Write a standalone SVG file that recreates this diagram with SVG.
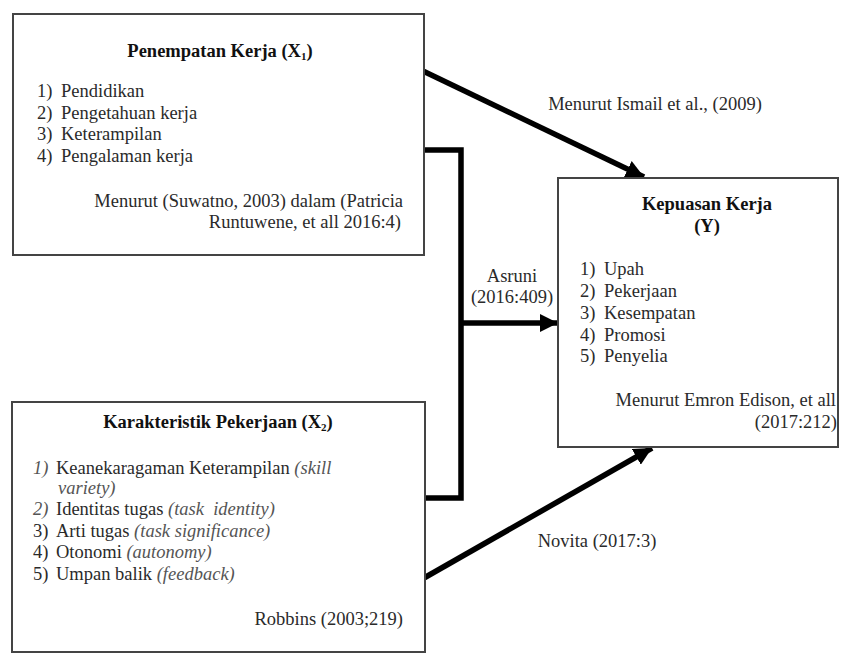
<svg xmlns="http://www.w3.org/2000/svg" width="845" height="655" viewBox="0 0 845 655">
<defs>
<style>
text{font-family:'Liberation Serif',Tinos,'Times New Roman','DejaVu Serif',serif;font-size:18.5px;fill:#2a2a2a}
.b{font-weight:bold;fill:#111}
.i{font-style:italic;fill:#555}
.box{fill:#fff;stroke:#444;stroke-width:2}
.con{fill:none;stroke:#000;stroke-width:5.5}
.sub{font-size:11px}
</style>
<marker id="ah" markerUnits="userSpaceOnUse" markerWidth="20" markerHeight="18" refX="18" refY="9" orient="auto">
<path d="M0,0 L18,9 L0,18 Z" fill="#000"/>
</marker>
</defs>
<rect width="845" height="655" fill="#fff"/>
<g id="connectors">
<path class="con" d="M424,150 H461 V498 H424"/>
<line class="con" x1="461" y1="323" x2="558" y2="323" marker-end="url(#ah)"/>
<line class="con" x1="423" y1="71" x2="644" y2="177" marker-end="url(#ah)"/>
<line class="con" x1="424" y1="578" x2="652" y2="448" marker-end="url(#ah)"/>
</g>
<g id="labels">
<text x="655" y="110" text-anchor="middle">Menurut Ismail et al., (2009)</text>
<text x="512" y="282" text-anchor="middle">Asruni</text>
<text x="512" y="303" text-anchor="middle">(2016:409)</text>
<text x="597" y="547" text-anchor="middle">Novita (2017:3)</text>
</g>
<g id="x1">
<rect class="box" x="13" y="14" width="411" height="241"/>
<text x="220" y="57" text-anchor="middle" class="b">Penempatan Kerja (X<tspan class="sub" dy="3">1</tspan><tspan dy="-3">)</tspan></text>
<text x="37" y="97">1)</text><text x="61" y="97">Pendidikan</text>
<text x="37" y="119">2)</text><text x="61" y="119">Pengetahuan kerja</text>
<text x="37" y="140">3)</text><text x="61" y="140">Keterampilan</text>
<text x="37" y="162">4)</text><text x="61" y="162">Pengalaman kerja</text>
<text x="403" y="207" text-anchor="end">Menurut (Suwatno, 2003) dalam (Patricia</text>
<text x="401" y="228" text-anchor="end">Runtuwene, et all 2016:4)</text>
</g>
<g id="x2">
<rect class="box" x="12" y="402" width="413" height="250"/>
<text x="218" y="428" text-anchor="middle" class="b">Karakteristik Pekerjaan (X<tspan class="sub" dy="3">2</tspan><tspan dy="-3">)</tspan></text>
<text x="33" y="474" class="i">1)</text><text x="56" y="474">Keanekaragaman Keterampilan <tspan class="i">(skill</tspan></text>
<text x="58" y="494" class="i">variety)</text>
<text x="33" y="515" class="i">2)</text><text x="56" y="515">Identitas tugas <tspan class="i" xml:space="preserve">(task  identity)</tspan></text>
<text x="33" y="537">3)</text><text x="56" y="537">Arti tugas <tspan class="i">(task significance)</tspan></text>
<text x="33" y="558">4)</text><text x="56" y="558">Otonomi <tspan class="i">(autonomy)</tspan></text>
<text x="33" y="580">5)</text><text x="56" y="580">Umpan balik <tspan class="i">(feedback)</tspan></text>
<text x="403" y="625" text-anchor="end">Robbins (2003;219)</text>
</g>
<g id="y">
<rect class="box" x="558" y="178" width="280" height="269"/>
<text x="707" y="210" text-anchor="middle" class="b">Kepuasan Kerja</text>
<text x="707" y="232" text-anchor="middle" class="b">(Y)</text>
<text x="580" y="275">1)</text><text x="604" y="275">Upah</text>
<text x="580" y="297">2)</text><text x="604" y="297">Pekerjaan</text>
<text x="580" y="319">3)</text><text x="604" y="319">Kesempatan</text>
<text x="580" y="341">4)</text><text x="604" y="341">Promosi</text>
<text x="580" y="362">5)</text><text x="604" y="362">Penyelia</text>
<text x="836" y="406" text-anchor="end">Menurut Emron Edison, et all</text>
<text x="837" y="428" text-anchor="end">(2017:212)</text>
</g>
</svg>
